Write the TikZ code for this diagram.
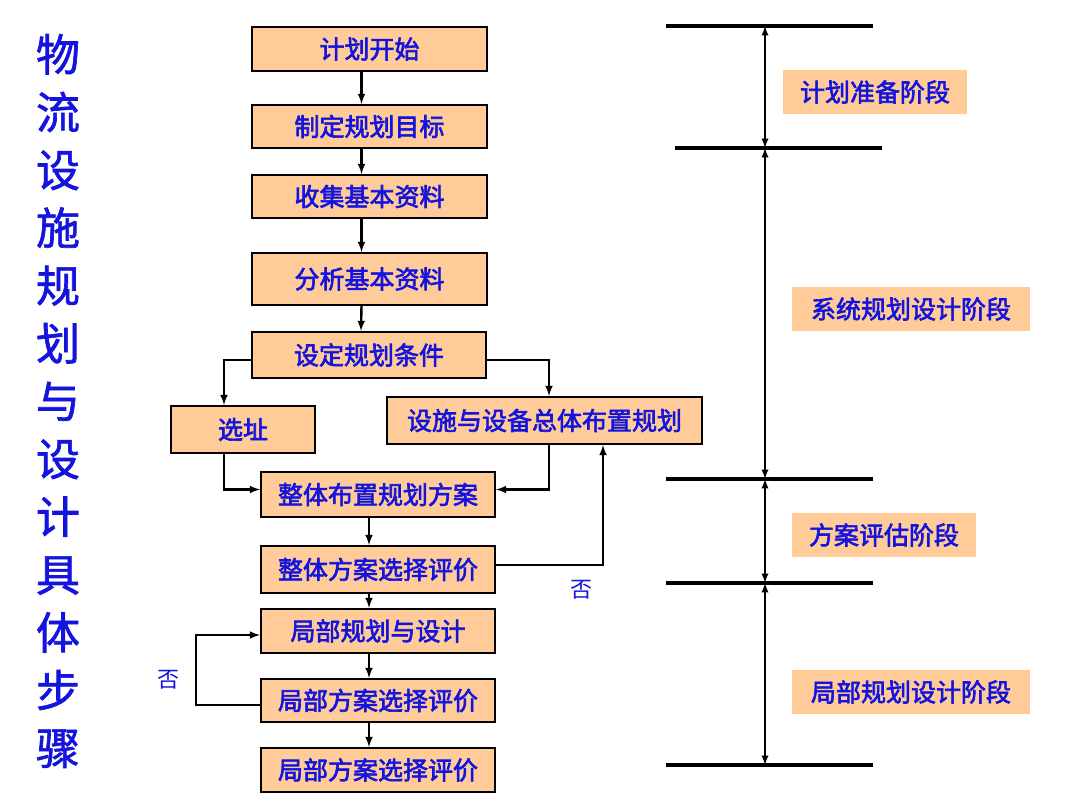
\documentclass[tikz,border=0pt]{standalone}
\usepackage{fontspec}
\setmainfont{Noto Sans CJK SC}
\usepackage{tikz}
\usetikzlibrary{calc}

\definecolor{boxfill}{RGB}{255,204,153}
\definecolor{txtblue}{RGB}{20,20,220}

\tikzset{
  stepbox/.style={draw=black, line width=2.2pt, fill=boxfill, text=txtblue,
    font=\fontsize{25}{30}\selectfont\addfontfeatures{FakeBold=2.5}, inner sep=0pt,
    minimum width=234pt, minimum height=44pt},
  phasebox/.style={fill=boxfill, text=txtblue,
    font=\fontsize{25}{30}\selectfont\addfontfeatures{FakeBold=2.5}, inner sep=0pt,
    minimum width=184pt, minimum height=44pt},
  link/.style={->, black, line width=2.4pt},
  stage/.style={black, line width=3.4pt},
  span/.style={<->, black, line width=2.2pt},
  notag/.style={text=txtblue, font=\fontsize{22}{24}\selectfont}
}

\begin{document}
\begin{tikzpicture}[x=1pt, y=-1pt, >=latex]
     \useasboundingbox (0,0) rectangle (1080,810);

     \node[text=txtblue, font=\fontsize{44}{57.8}\selectfont\addfontfeatures{FakeBold=1.5}, align=center]
       (TT) at (58,401) {物\\流\\设\\施\\规\\划\\与\\设\\计\\具\\体\\步\\骤};

     \node[stepbox, minimum width=235pt] (KS) at (369.5, 49) {计划开始};
     \node[stepbox, minimum width=235pt, minimum height=43pt] (ZD) at (369.5,126.5) {制定规划目标};
     \node[stepbox, minimum width=235pt, minimum height=43pt] (SJ) at (369.5,196.5) {收集基本资料};
     \node[stepbox, minimum width=235pt, minimum height=52pt] (FX) at (369.5, 279) {分析基本资料};
     \node[stepbox, minimum height=46pt] (SD) at (369, 355) {设定规划条件};
     \node[stepbox, minimum width=144pt, minimum height=47pt] (XZ) at (243,429.5) {选址};
     \node[stepbox, minimum width=315pt, minimum height=47pt] (SS) at (544.5,420.5) {设施与设备总体布置规划};
     \node[stepbox, minimum height=45pt] (ZT) at (378,494.5) {整体布置规划方案};
     \node[stepbox, minimum height=47pt] (ZP) at (378,569.5) {整体方案选择评价};
     \node[stepbox] (JB) at (378, 631) {局部规划与设计};
     \node[stepbox, minimum height=43pt] (JP) at (378,700.5) {局部方案选择评价};
     \node[stepbox] (JQ) at (378, 770) {局部方案选择评价};

     \draw[link] ([xshift=-8pt]KS.south) -- ([xshift=-8pt]ZD.north);
     \draw[link] ([xshift=-8pt]ZD.south) -- ([xshift=-8pt]SJ.north);
     \draw[link] ([xshift=-8pt]SJ.south) -- ([xshift=-8pt]FX.north);
     \draw[link] ([xshift=-8pt]FX.south) -- ([xshift=-8pt]SD.north);
     \draw[link] ([yshift=-5pt]SD.west) -| ([xshift=-19pt]XZ.north);
     \draw[link] ([yshift=-5pt]SD.east) -| ([xshift=4.5pt]SS.north);
     \draw[link] ([xshift=-19pt]XZ.south) |- ([yshift=5pt]ZT.west);
     \draw[link] ([xshift=4.5pt]SS.south) |- ([yshift=5pt]ZT.east);
     \draw[link] ([xshift=-9pt]ZT.south) -- ([xshift=-9pt]ZP.north);
     \draw[link] ([yshift=4.5pt]ZP.east) -| ([xshift=58.5pt]SS.south);
     \draw[link] ([xshift=-9pt]ZP.south) -- ([xshift=-9pt]JB.north);
     \draw[link] ([xshift=-9pt]JB.south) -- ([xshift=-9pt]JP.north);
     \draw[link] ([xshift=-9pt]JP.south) -- ([xshift=-9pt]JQ.north);
     \draw[link] ([yshift=-4.5pt]JP.west) -- ++(-64,0) |- ([yshift=-4pt]JB.west);

     \node[notag] (NA) at (581,590) {否};
     \node[notag] (NB) at (168,680) {否};

     \coordinate (LA) at (666, 26);
     \coordinate (LB) at (675,148);
     \coordinate (LC) at (666,479);
     \coordinate (LD) at (666,583);
     \coordinate (LE) at (666,765);

     \draw[stage] (LA) -- ++(207,0);
     \draw[stage] (LB) -- ++(207,0);
     \draw[stage] (LC) -- ++(207,0);
     \draw[stage] (LD) -- ++(207,0);
     \draw[stage] (LE) -- ++(207,0);

     \draw[span] ($(LA)+(99,0)$) -- ($(LA |- LB)+(99,0)$);
     \draw[span] ($(LA |- LB)+(99,0)$) -- ($(LC)+(99,0)$);
     \draw[span] ($(LC)+(99,0)$) -- ($(LD)+(99,0)$);
     \draw[span] ($(LD)+(99,0)$) -- ($(LE)+(99,0)$);

     \node[phasebox] (PA) at (875, 92) {计划准备阶段};
     \node[phasebox, minimum width=238pt] (PB) at (911,309) {系统规划设计阶段};
     \node[phasebox] (PC) at (884,535) {方案评估阶段};
     \node[phasebox, minimum width=238pt] (PD) at (911,692) {局部规划设计阶段};

\end{tikzpicture}
\end{document}
